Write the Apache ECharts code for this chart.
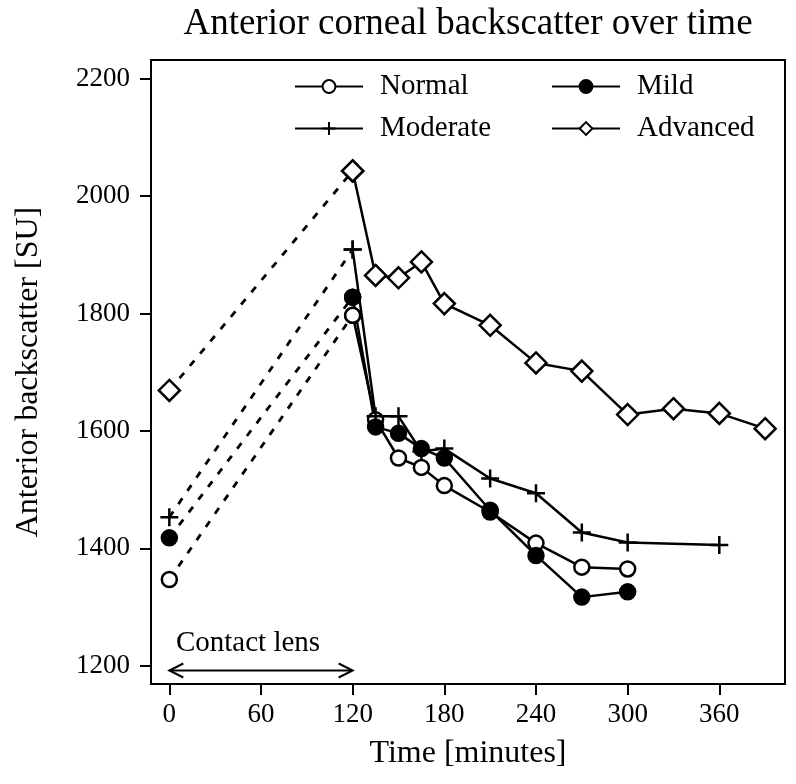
<!DOCTYPE html>
<html><head><meta charset="utf-8">
<script src="https://cdn.jsdelivr.net/npm/echarts@6/dist/echarts.min.js"></script>
<style>html,body{margin:0;padding:0;background:#fff}#c{width:796px;height:784px}</style>
</head><body><div id="c"></div>
<script>
// ---- data ----
const xTicks = [0, 60, 120, 180, 240, 300, 360];
const yTicks = [1200, 1400, 1600, 1800, 2000, 2200];

const timesNormal = [0, 120, 135, 150, 165, 180, 210, 240, 270, 300];
const normalVals  = [1347, 1797, 1619, 1554, 1538, 1507, 1462, 1409, 1368, 1365];

const timesMild = [0, 120, 135, 150, 165, 180, 210, 240, 270, 300];
const mildVals  = [1418, 1828, 1607, 1596, 1570, 1554, 1465, 1388, 1317, 1326];

const timesModerate = [0, 120, 135, 150, 165, 180, 210, 240, 270, 300, 360];
const moderateVals  = [1453, 1909, 1625, 1625, 1565, 1570, 1519, 1494, 1427, 1410, 1406];

const timesAdvanced = [0, 120, 135, 150, 165, 180, 210, 240, 270, 300, 330, 360, 390];
const advancedVals  = [1669, 2043, 1865, 1861, 1888, 1817, 1780, 1716, 1702, 1628, 1638, 1630, 1604];

const lensTimes = [0, 120];
const lensLevel = 1192;
const lensLabelPos = [51.5, 1239];
const lensLabel = 'Contact lens';

// ---- styling ----
const FF = 'Liberation Serif';
const PLUS = 'path://M5,0L5,10M0,5L10,5';

function seriesPair(name, times, vals, symbol, size, fill) {
  const pts = times.map((t, i) => [t, vals[i]]);
  const item = {color: fill, borderColor: '#000', borderWidth: 2.5, opacity: 1};
  return [
    {
      name: name + ' (lens)', type: 'line', data: pts.slice(0, 2),
      symbol: symbol, symbolSize: size, itemStyle: item,
      lineStyle: {color: '#000', width: 2.8, type: [7, 9]},
      silent: true, z: 2
    },
    {
      name: name, type: 'line', data: pts.slice(1),
      symbol: symbol, symbolSize: size, itemStyle: item,
      lineStyle: {color: '#000', width: 2.5},
      silent: true, z: 3
    }
  ];
}

const series = [].concat(
  seriesPair('Normal', timesNormal, normalVals, 'circle', 15, '#fff'),
  seriesPair('Mild', timesMild, mildVals, 'circle', 15, '#000'),
  seriesPair('Moderate', timesModerate, moderateVals, PLUS, 18, 'transparent'),
  seriesPair('Advanced', timesAdvanced, advancedVals, 'diamond', 21, '#fff')
);

series.push({
  type: 'line', silent: true, z: 4,
  data: [
    {value: [lensTimes[0], lensLevel], symbol: 'path://M10,0L0,5L10,10', symbolOffset: [7, 0]},
    {value: [lensTimes[1], lensLevel], symbol: 'path://M0,0L10,5L0,10', symbolOffset: [-7, 0]}
  ],
  symbolSize: [14, 14],
  itemStyle: {color: 'transparent', borderColor: '#000', borderWidth: 2},
  lineStyle: {color: '#000', width: 2}
});
series.push({
  type: 'scatter', silent: true, z: 4,
  data: [lensLabelPos], symbolSize: 1,
  itemStyle: {color: 'transparent', opacity: 1},
  label: {show: true, position: 'inside', formatter: lensLabel,
          fontFamily: FF, fontSize: 29, color: '#000'}
});

const legendCommon = {
  orient: 'vertical', itemWidth: 68, itemHeight: 16, itemGap: 13,
  padding: 0, selectedMode: false,
  textStyle: {fontFamily: FF, fontSize: 29, color: '#000', padding: [0, 0, 0, 12]}
};

const option = {
  animation: false,
  backgroundColor: '#fff',
  title: {
    text: 'Anterior corneal backscatter over time',
    left: 468, top: 6, textAlign: 'center', padding: 0,
    textStyle: {fontFamily: FF, fontSize: 37, fontWeight: 'normal', color: '#000'}
  },
  legend: [
    Object.assign({left: 294, top: 72, data: ['Normal', 'Moderate']}, legendCommon),
    Object.assign({left: 551, top: 72, data: ['Mild', 'Advanced']}, legendCommon)
  ],
  grid: {left: 151, right: 11, top: 60, bottom: 100, show: true,
         borderColor: '#000', borderWidth: 2, backgroundColor: 'transparent'},
  xAxis: {
    type: 'value', min: -12, max: 403,
    name: 'Time [minutes]', nameLocation: 'middle', nameGap: 54,
    nameTextStyle: {fontFamily: FF, fontSize: 32, color: '#000'},
    axisLine: {show: false, onZero: false},
    axisTick: {show: true, length: 11, lineStyle: {color: '#000', width: 2}, customValues: xTicks},
    axisLabel: {fontFamily: FF, fontSize: 27, color: '#000', margin: 17, customValues: xTicks,
                formatter: v => String(v)},
    splitLine: {show: false}
  },
  yAxis: {
    type: 'value', min: 1169, max: 2232,
    name: 'Anterior backscatter [SU]', nameLocation: 'middle', nameGap: 106,
    nameTextStyle: {fontFamily: FF, fontSize: 32, color: '#000'},
    axisLine: {show: false, onZero: false},
    axisTick: {show: true, length: 11, lineStyle: {color: '#000', width: 2}, customValues: yTicks},
    axisLabel: {fontFamily: FF, fontSize: 27, color: '#000', margin: 21, customValues: yTicks,
                formatter: v => String(v)},
    splitLine: {show: false}
  },
  series: series
};

const chart = echarts.init(document.getElementById('c'), null, {renderer: 'canvas'});
chart.setOption(option);
</script></body></html>
